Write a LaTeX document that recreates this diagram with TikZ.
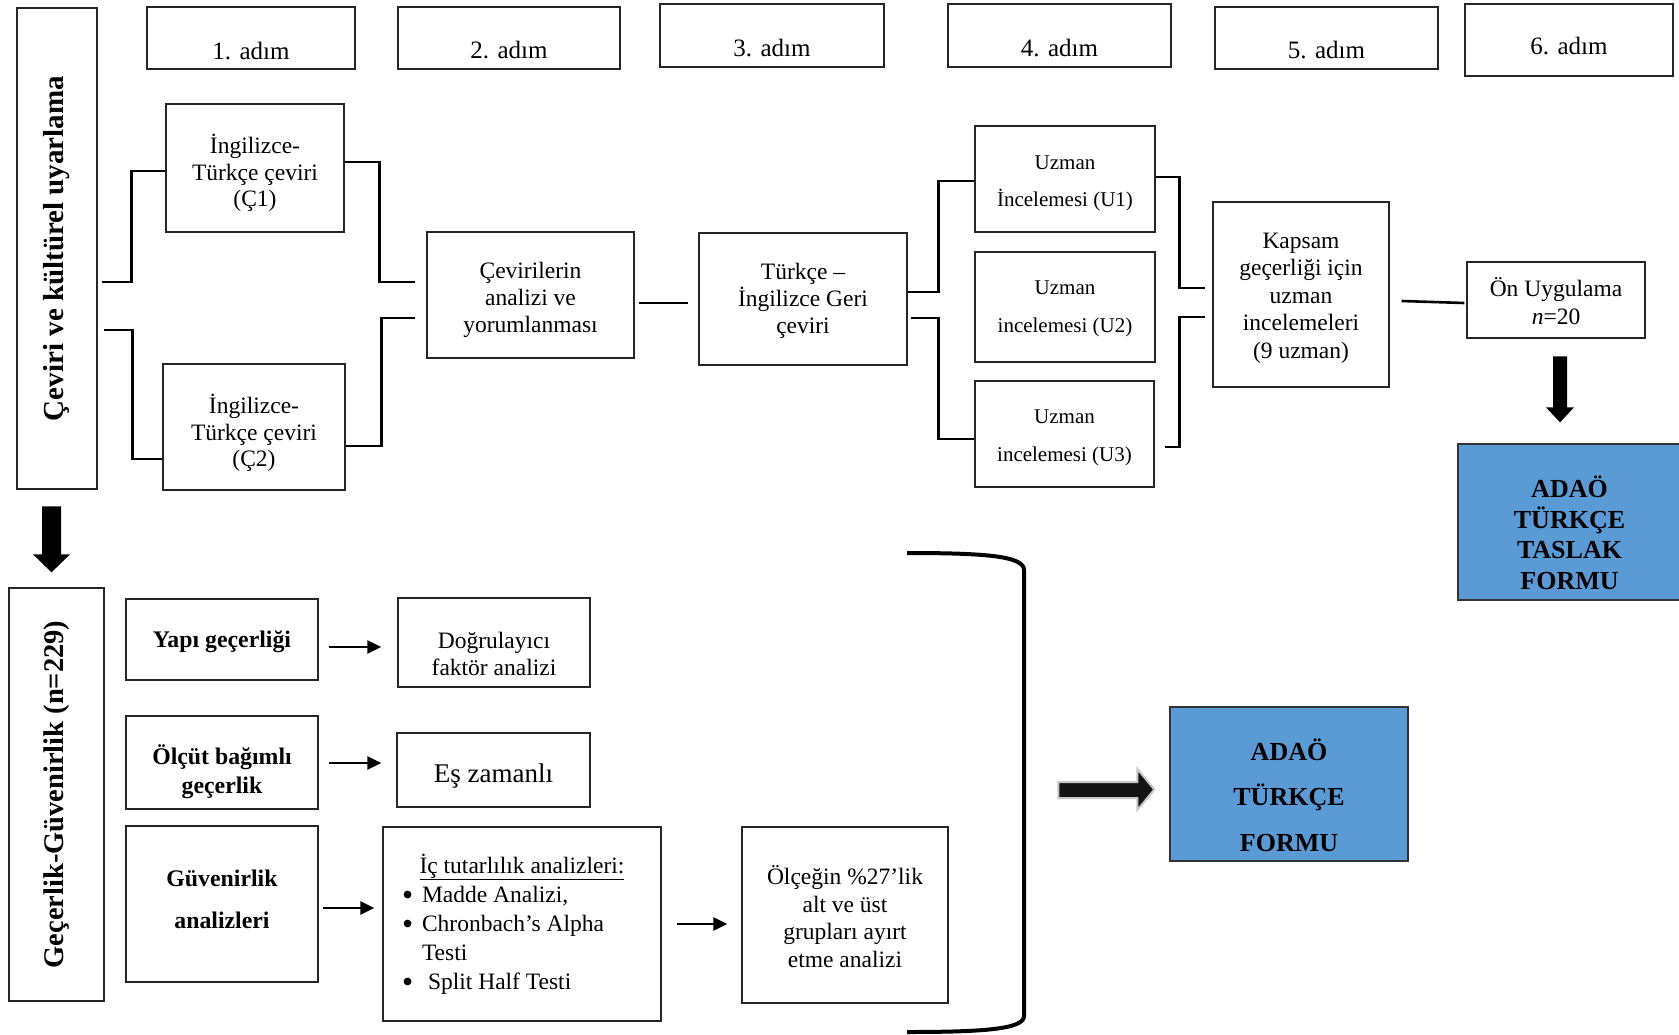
\documentclass[tikz,border=0pt]{standalone}
\usepackage{fontspec}
\usepackage{graphicx}
\setmainfont{Liberation Serif}
\usetikzlibrary{arrows.meta,calc}
\definecolor{adablue}{HTML}{5B9BD5}
\newcommand{\bul}{\raisebox{-3pt}{\scalebox{1.35}{•}}}
\begin{document}
\begin{tikzpicture}[x=1pt,y=-1pt,
  box/.style={draw=black!85, line width=1.3pt, inner sep=0pt, fill=white},
  bluebox/.style={draw=black!80, line width=1.3pt, inner sep=0pt, fill=adablue},
  tx/.style={align=center, inner sep=0pt, font=\fontsize{23.5}{27}\selectfont},
  steptx/.style={inner sep=0pt, font=\fontsize{25}{28}\selectfont},
  conn/.style={line width=2.6pt, line join=miter},
  thinarrow/.style={line width=2.4pt, -{Triangle[length=14pt,width=13pt]}},
  blockarrow/.style={fill=black},
]
\useasboundingbox[fill=white] (0,0) rectangle (1679,1034);

% step headers
\node[box, minimum width=208pt, minimum height=62pt, label={[steptx,yshift=-13pt]center:1. adım}] (s1) at (251,38) {};
\node[box, minimum width=222pt, minimum height=62pt, label={[steptx,yshift=-12pt]center:2. adım}] (s2) at (509,38) {};
\node[box, minimum width=224pt, minimum height=63pt, label={[steptx,yshift=-12pt]center:3. adım}] (s3) at (772,35.5) {};
\node[box, minimum width=223pt, minimum height=63pt, label={[steptx,yshift=-12pt]center:4. adım}] (s4) at (1059.5,35.5) {};
\node[box, minimum width=223pt, minimum height=62pt, label={[steptx,yshift=-12.5pt]center:5. adım}] (s5) at (1326.5,38) {};
\node[box, minimum width=208pt, minimum height=72pt, label={[steptx,yshift=-6.5pt]center:6. adım}] (s6) at (1569,40) {};

% translation and cultural adaptation
\node[box, minimum width=80pt, minimum height=481pt] (A) at (57,248.5) {};
\node[rotate=90, inner sep=0pt, font=\bfseries\fontsize{29}{33}\selectfont] (Atxt) at (A.center) {Çeviri ve kültürel uyarlama};

\node[box, minimum width=178pt, minimum height=128pt, label={[tx,yshift=-5pt,font=\fontsize{23.5}{26.5}\selectfont]center:{İngilizce-\\Türkçe çeviri\\(Ç1)}}] (C1) at (255,168) {};
\node[box, minimum width=182pt, minimum height=126pt, label={[tx,yshift=-6pt,font=\fontsize{23.5}{26.5}\selectfont]center:{İngilizce-\\Türkçe çeviri\\(Ç2)}}] (C2) at (254,427) {};
\node[box, minimum width=207pt, minimum height=126pt, label={[tx,yshift=-5pt]center:{Çevirilerin\\analizi ve\\yorumlanması}}] (Cev) at (530.5,295) {};
\node[box, minimum width=208pt, minimum height=132pt, label={[tx,yshift=-2pt]center:{Türkçe –\\İngilizce Geri\\çeviri}}] (Tur) at (803,299) {};

\node[box, minimum width=180pt, minimum height=106pt, label={[tx,yshift=-4.5pt,font=\fontsize{21}{37}\selectfont]center:{Uzman\\İncelemesi (U1)}}] (U1) at (1065,179) {};
\node[box, minimum width=180pt, minimum height=110pt, label={[tx,yshift=-2pt,font=\fontsize{21}{38}\selectfont]center:{Uzman\\incelemesi (U2)}}] (U2) at (1065,307) {};
\node[box, minimum width=179pt, minimum height=106pt, label={[tx,yshift=-4pt,font=\fontsize{21}{38}\selectfont]center:{Uzman\\incelemesi (U3)}}] (U3) at (1064.5,434) {};

\node[box, minimum width=176pt, minimum height=185pt, label={[tx,yshift=-3.5pt,font=\fontsize{23.5}{27.5}\selectfont]center:{Kapsam\\geçerliği için\\uzman\\incelemeleri\\(9 uzman)}}] (Kap) at (1301,294.5) {};
\node[box, minimum width=178pt, minimum height=76pt, label={[tx,yshift=-1pt,font=\fontsize{23.5}{28}\selectfont]center:{Ön Uygulama\\\textit{n}=20}}] (On) at (1556,300) {};
\node[bluebox, minimum width=223pt, minimum height=156pt, label={[tx,yshift=-11pt,font=\bfseries\fontsize{26}{30.5}\selectfont]center:{ADAÖ\\TÜRKÇE\\TASLAK\\FORMU}}] (T) at (1569.5,522) {};

% validity and reliability
\node[box, minimum width=95pt, minimum height=413pt] (G) at (56.5,794.5) {};
\node[rotate=90, inner sep=0pt, font=\bfseries\fontsize{28.5}{32}\selectfont] (Gtxt) at (G.center) {Geçerlik-Güvenirlik (n=229)};

\node[box, minimum width=192pt, minimum height=81pt, label={[tx,yshift=-2.5pt,font=\bfseries\fontsize{23.8}{29}\selectfont]center:{Yapı geçerliği}}] (Y) at (222,639.5) {};
\node[box, minimum width=192pt, minimum height=89pt, label={[tx,yshift=-11pt]center:{Doğrulayıcı\\faktör analizi}}] (D) at (494,642.5) {};
\node[box, minimum width=192pt, minimum height=93pt, label={[tx,yshift=-9.5pt,font=\bfseries\fontsize{23.8}{29}\selectfont]center:{Ölçüt bağımlı\\geçerlik}}] (O) at (222,762.5) {};
\node[box, minimum width=193pt, minimum height=74pt, label={[tx,yshift=-6pt,font=\fontsize{27}{30}\selectfont]center:{Eş zamanlı}}] (E) at (493.5,770) {};
\node[box, minimum width=192pt, minimum height=156pt, label={[tx,yshift=5pt,font=\bfseries\fontsize{23.8}{42}\selectfont]center:{Güvenirlik\\analizleri}}] (Gv) at (222,904) {};

\node[box, minimum width=278pt, minimum height=194pt] (I) at (522,924) {%
  \begin{minipage}{250pt}\fontsize{23.5}{29}\selectfont
  {\centering\underline{İç tutarlılık analizleri:}\par}
  \raggedright
  \hspace*{5pt}\makebox[20pt][l]{\bul}Madde Analizi,\par
  \hspace*{5pt}\makebox[20pt][l]{\bul}Chronbach’s Alpha\par
  \hspace*{25pt}Testi\par
  \hspace*{5pt}\makebox[20pt][l]{\bul}\hspace*{6pt}Split Half Testi\par
  \end{minipage}};

\node[box, minimum width=206pt, minimum height=176pt, label={[tx,yshift=-1.5pt,font=\fontsize{23.5}{27.7}\selectfont]center:{Ölçeğin \%27’lik\\alt ve üst\\grupları ayırt\\etme analizi}}] (L) at (845,915) {};

\node[bluebox, minimum width=238pt, minimum height=154pt, label={[tx,yshift=-11pt,font=\bfseries\fontsize{26}{45.5}\selectfont]center:{ADAÖ\\TÜRKÇE\\FORMU}}] (F) at (1289,784) {};

% elbow connectors of the translation stage
\draw[conn] ([xshift=4pt,yshift=-33.5pt]A.east) -| ([xshift=-34pt,yshift=-3pt]C1.west) -- ([yshift=-3pt]C1.west);
\draw[conn] ([xshift=6pt,yshift=-81.5pt]A.east) -| ([xshift=-30pt,yshift=-32pt]C2.west) -- ([yshift=-32pt]C2.west);
\draw[conn] ([yshift=6pt]C1.east) -| ([xshift=-47pt,yshift=13pt]Cev.west) -- ([xshift=-11pt,yshift=13pt]Cev.west);
\draw[conn] ([yshift=-19pt]C2.east) -| ([xshift=-45pt,yshift=-23pt]Cev.west) -- ([xshift=-11pt,yshift=-23pt]Cev.west);
\draw[conn] ([xshift=4pt,yshift=-8pt]Cev.east) -- ([xshift=-10pt,yshift=-4pt]Tur.west);
\draw[conn] ([yshift=7pt]Tur.east) -| ([xshift=-36pt,yshift=-2pt]U1.west) -- ([yshift=-2pt]U1.west);
\draw[conn] ([xshift=3pt,yshift=-19pt]Tur.east) -| ([xshift=-36pt,yshift=-5pt]U3.west) -- ([yshift=-5pt]U3.west);
\draw[conn] ([yshift=2pt]U1.east) -| ([xshift=-33pt,yshift=6.5pt]Kap.west) -- ([xshift=-7pt,yshift=6.5pt]Kap.west);
\draw[conn] ([xshift=10pt,yshift=-13pt]U3.east) -| ([xshift=-33pt,yshift=-22.5pt]Kap.west) -- ([xshift=-7pt,yshift=-22.5pt]Kap.west);
\draw[conn] ([xshift=12pt,yshift=-6.5pt]Kap.east) -- ([xshift=-2pt,yshift=-3pt]On.west);

% thin arrows of the analysis stage
\draw[thinarrow] ([xshift=10pt,yshift=-7.5pt]Y.east) -- ([xshift=-16pt,yshift=-4.5pt]D.west);
\draw[thinarrow] ([xshift=10pt,yshift=-0.5pt]O.east) -- ([xshift=-15pt,yshift=7pt]E.west);
\draw[thinarrow] ([xshift=4pt,yshift=-4pt]Gv.east) -- ([xshift=-8pt,yshift=16pt]I.west);
\draw[thinarrow] ([xshift=15pt]I.east) -- ([xshift=-14pt,yshift=-9pt]L.west);

% block arrows
\coordinate (tipA) at ([xshift=-5pt,yshift=15pt]G.north);
\fill[blockarrow] (tipA) -- ++(-18.5,-18) -- ++(9,0) -- ++(0,-48) -- ++(19,0) -- ++(0,48) -- ++(9,0) -- cycle;
\coordinate (tipB) at ([xshift=-9.5pt,yshift=21pt]T.north);
\fill[blockarrow] (tipB) -- ++(-14,-15) -- ++(7,0) -- ++(0,-51) -- ++(14,0) -- ++(0,51) -- ++(7,0) -- cycle;
\coordinate (tipC) at ([xshift=-15pt,yshift=-5.5pt]F.west);
\filldraw[fill=black!92, draw=black!22, line width=2pt, line join=miter] (tipC) -- ++(-17,-20.5) -- ++(0,13) -- ++(-79,0) -- ++(0,16) -- ++(79,0) -- ++(0,12) -- cycle;

% closing bracket around the analysis stage
\coordinate (brT) at (907,553);
\coordinate (brB) at (907,1032);
\draw[line width=4pt] (brT) .. controls (985,553) and (1024,556) .. (1024,570) -- (1024,1016) .. controls (1024,1029) and (985,1032) .. (brB);
\end{tikzpicture}
\end{document}
